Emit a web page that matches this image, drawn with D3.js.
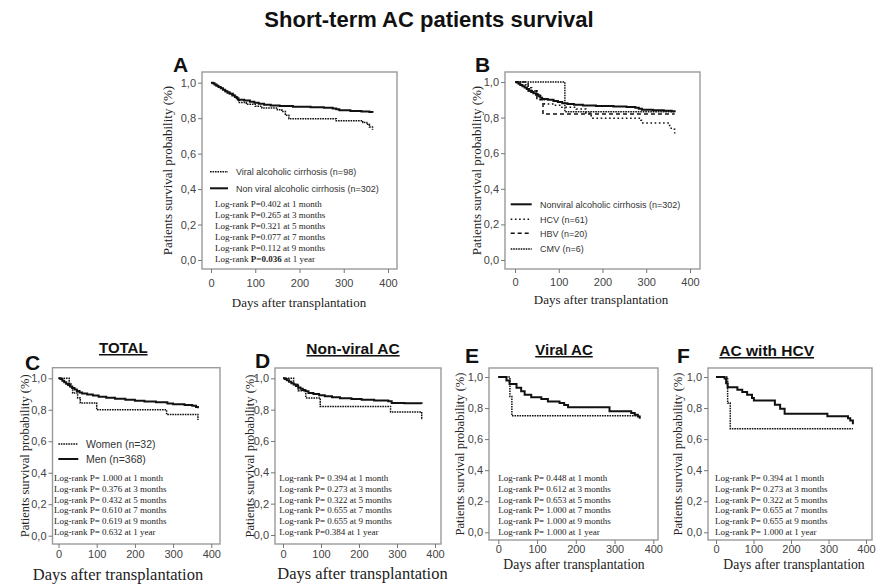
<!DOCTYPE html>
<html><head><meta charset="utf-8">
<script src="https://cdn.jsdelivr.net/npm/d3@7"></script>
<style>body{margin:0;background:#fff}</style>
</head><body><svg id="c" width="877" height="585"></svg>
<script>
// ---------- DATA ----------
const chartTitle = "Short-term AC patients survival";
const xTicks = [0, 100, 200, 300, 400];
const yTicks = [0, 0.2, 0.4, 0.6, 0.8, 1.0];
const yTickLabels = ["0,0", "0,2", "0,4", "0,6", "0,8", "1,0"];
const yAxisTitle = "Patients survival probability (%)";
const xAxisTitle = "Days after transplantation";

// Panel A
const aNonViral = [[0,1],[4,0.997],[8,0.99],[12,0.983],[17,0.976],[22,0.969],[27,0.96],[32,0.952],[37,0.944],[42,0.937],[48,0.928],[54,0.92],[58,0.912],[62,0.904],[75,0.9],[88,0.893],[98,0.887],[108,0.881],[120,0.876],[135,0.872],[155,0.868],[185,0.865],[225,0.862],[255,0.859],[275,0.855],[283,0.85],[290,0.844],[315,0.841],[340,0.838],[358,0.835],[365,0.83]];
const aViral = [[0,1],[6,0.99],[13,0.98],[20,0.97],[27,0.959],[34,0.949],[42,0.939],[50,0.929],[56,0.918],[60,0.898],[64,0.888],[80,0.878],[100,0.867],[115,0.857],[150,0.847],[160,0.837],[168,0.816],[176,0.796],[283,0.786],[343,0.776],[352,0.765],[358,0.75],[365,0.735]];
const aLegend = ["Viral alcoholic cirrhosis (n=98)", "Non viral alcoholic cirrhosis (n=302)"];
const aLogrank = ["Log-rank P=0.402 at 1 month","Log-rank P=0.265 at 3 months","Log-rank P=0.321 at 5 months","Log-rank P=0.077 at 7 months","Log-rank P=0.112 at 9 months","Log-rank P=0.036 at 1 year"];
const aBoldText = "P=0.036";

// Panel B
const bNonViral = [[0,1],[4,0.997],[8,0.99],[12,0.983],[17,0.976],[22,0.969],[27,0.96],[32,0.952],[37,0.944],[42,0.937],[48,0.928],[54,0.92],[58,0.912],[62,0.904],[75,0.9],[88,0.893],[98,0.887],[108,0.881],[120,0.876],[135,0.872],[155,0.868],[185,0.865],[225,0.862],[255,0.859],[275,0.855],[283,0.85],[290,0.844],[315,0.841],[340,0.838],[358,0.835],[365,0.83]];
const bHCV = [[0,1],[12,0.984],[25,0.967],[38,0.951],[50,0.934],[58,0.918],[62,0.902],[67,0.877],[90,0.869],[105,0.858],[140,0.848],[162,0.825],[172,0.81],[178,0.797],[288,0.785],[292,0.77],[350,0.755],[357,0.735],[365,0.71]];
const bHBV = [[0,1],[30,0.95],[50,0.9],[64,0.82],[365,0.82]];
const bCMV = [[0,1],[114,0.833],[365,0.833]];
const bLegend = ["Nonviral alcoholic cirrhosis (n=302)", "HCV (n=61)", "HBV (n=20)", "CMV (n=6)"];

// Panel C (TOTAL)
const cMen = [[0,1],[5,0.995],[10,0.985],[15,0.975],[20,0.965],[25,0.957],[30,0.948],[36,0.938],[42,0.929],[48,0.92],[55,0.91],[62,0.903],[75,0.897],[90,0.89],[105,0.883],[125,0.877],[148,0.87],[175,0.864],[200,0.858],[225,0.853],[255,0.848],[285,0.84],[300,0.835],[330,0.83],[350,0.825],[360,0.818],[365,0.81]];
const cWomen = [[0,1],[28,0.969],[33,0.938],[37,0.906],[50,0.875],[57,0.843],[100,0.8],[283,0.77],[365,0.735]];
const cLegend = ["Women (n=32)", "Men (n=368)"];
const cLogrank = ["Log-rank P= 1.000 at 1 month","Log-rank P= 0.376 at 3 months","Log-rank P= 0.432 at 5 months","Log-rank P= 0.610 at 7 months","Log-rank P= 0.619 at 9 months","Log-rank P= 0.632 at 1 year"];

// Panel D (Non-viral AC)
const dMen = [[0,1],[5,0.995],[10,0.987],[16,0.978],[22,0.969],[28,0.96],[34,0.951],[40,0.942],[46,0.934],[52,0.926],[59,0.917],[67,0.906],[80,0.9],[95,0.892],[110,0.885],[129,0.879],[150,0.873],[180,0.868],[207,0.863],[240,0.858],[277,0.853],[286,0.842],[320,0.84],[365,0.838]];
const dWomen = [[0,1],[28,0.96],[40,0.92],[60,0.875],[98,0.82],[283,0.785],[365,0.735]];
const dLogrank = ["Log-rank P= 0.394 at 1 month","Log-rank P= 0.273 at 3 months","Log-rank P= 0.322 at 5 months","Log-rank P= 0.655 at 7 months","Log-rank P= 0.655 at 9 months","Log-rank P=0.384 at 1 year"];

// Panel E (Viral AC)
const eMen = [[0,1],[21,0.978],[29,0.955],[47,0.93],[59,0.908],[68,0.886],[85,0.869],[111,0.858],[128,0.843],[158,0.833],[170,0.82],[180,0.805],[287,0.779],[343,0.768],[352,0.757],[360,0.745],[365,0.731]];
const eWomen = [[0,1],[30,0.875],[35,0.75],[365,0.75]];
const eLogrank = ["Log-rank P= 0.448 at 1 month","Log-rank P= 0.612 at 3 months","Log-rank P= 0.653 at 5 months","Log-rank P= 1.000 at 7 months","Log-rank P= 1.000 at 9 months","Log-rank P= 1.000 at 1 year"];

// Panel F (AC with HCV)
const fMen = [[0,1],[23,0.99],[27,0.96],[31,0.934],[57,0.918],[70,0.903],[83,0.886],[96,0.865],[101,0.848],[157,0.822],[171,0.796],[183,0.764],[297,0.747],[352,0.735],[358,0.72],[365,0.695]];
const fWomen = [[0,1],[31,0.833],[38,0.667],[365,0.667]];
const fLogrank = ["Log-rank P= 0.394 at 1 month","Log-rank P= 0.273 at 3 months","Log-rank P= 0.322 at 5 months","Log-rank P= 0.655 at 7 months","Log-rank P= 0.655 at 9 months","Log-rank P= 1.000 at 1 year"];

const panelLetters = ["A", "B", "C", "D", "E", "F"];
const panelSubtitles = ["", "", "TOTAL", "Non-viral AC", "Viral AC", "AC with HCV"];

// ---------- STYLES ----------
const SOLID = {dash: null, w: 2};
const DENSE = {dash: "1.6,0.9", w: 1.5};
const SPARSE = {dash: "1.6,2.6", w: 1.5};
const DASHED = {dash: "4,3", w: 1.5};
const SERIF = "'Liberation Serif','Times New Roman',serif";
const SANS = "'Liberation Sans',Arial,sans-serif";

const svg = d3.select("#c");

svg.append("text").attr("x", 429).attr("y", 27).attr("text-anchor", "middle")
  .attr("font-family", SANS).attr("font-weight", "bold").attr("font-size", 22)
  .attr("fill", "#111").text(chartTitle);

const panels = [
  {frame:[202,72,397,269], xr:[211,388], yr:[260,82.7], xpad:6, xt:[299,307,13], yt:[172,13], letter:[173,72], sub:null,
   series:[[aViral,DENSE],[aNonViral,SOLID]],
   legend:{items:[[aLegend[0],DENSE],[aLegend[1],SOLID]], x0:210, x1:228, tx:236, ys:[171.7,188.3], fs:9},
   logrank:{lines:aLogrank, x:215, y0:207.3, step:10.85, bold:aBoldText}},
  {frame:[505,72,700,269], xr:[515,690], yr:[260,82], xpad:5, xt:[601,304,13], yt:[481,13], letter:[475,72], sub:null,
   series:[[bCMV,DENSE],[bHBV,DASHED],[bHCV,SPARSE],[bNonViral,SOLID]],
   legend:{items:[[bLegend[0],SOLID],[bLegend[1],SPARSE],[bLegend[2],DASHED],[bLegend[3],DENSE]], x0:510.7, x1:531.7, tx:540, ys:[204.3,219.3,233.3,249], fs:9},
   logrank:null},
  {frame:[52.5,367.7,220,544], xr:[58.5,211.3], yr:[535.7,378.3], xpad:2, xt:[118,580,16.5], yt:[29,12.5], letter:[25,370], sub:[123.3,353,15],
   series:[[cWomen,DENSE],[cMen,SOLID]],
   legend:{items:[[cLegend[0],DENSE],[cLegend[1],SOLID]], x0:58.3, x1:78.3, tx:86, ys:[444,459], fs:10.5},
   logrank:{lines:cLogrank, x:54, y0:481.3, step:10.7}},
  {frame:[275,368,441,544], xr:[283,435], yr:[535,378.3], xpad:2, xt:[362.5,579,16.5], yt:[254,12.5], letter:[255,368], sub:[353,354,15.5],
   series:[[dWomen,DENSE],[dMen,SOLID]], legend:null,
   logrank:{lines:dLogrank, x:279.3, y0:480.7, step:10.9}},
  {frame:[489,368,658,540], xr:[498.3,653.3], yr:[532.3,377], xpad:1, xt:[574,569,13.7], yt:[464,12.5], letter:[465,363], sub:[564,355,15],
   series:[[eWomen,DENSE],[eMen,SOLID]], legend:null,
   logrank:{lines:eLogrank, x:498.3, y0:480.7, step:10.9}},
  {frame:[708,368,872,540], xr:[716,866], yr:[532.3,377], xpad:1, xt:[794,569,13.7], yt:[682,12.5], letter:[677,363], sub:[766.7,356,15.5],
   series:[[fWomen,DENSE],[fMen,SOLID]], legend:null,
   logrank:{lines:fLogrank, x:715, y0:480.7, step:10.9}}
];

panels.forEach((p, i) => {
  const g = svg.append("g");
  const [fx0, fy0, fx1, fy1] = p.frame;
  const x = d3.scaleLinear().domain([0, 400]).range(p.xr);
  const y = d3.scaleLinear().domain([0, 1]).range(p.yr);

  // frame
  g.append("rect").attr("x", fx0).attr("y", fy0).attr("width", fx1 - fx0).attr("height", fy1 - fy0)
    .attr("fill", "none").attr("stroke", "#9a9a9a").attr("stroke-width", 1.4);

  // axes
  const ya = g.append("g").attr("transform", `translate(${fx0},0)`)
    .call(d3.axisLeft(y).tickValues(yTicks).tickFormat((d, k) => yTickLabels[k]).tickSize(4).tickPadding(2));
  const xa = g.append("g").attr("transform", `translate(0,${fy1})`)
    .call(d3.axisBottom(x).tickValues(xTicks).tickFormat(d3.format("d")).tickSize(4).tickPadding(p.xpad));
  [ya, xa].forEach(a => {
    a.select(".domain").remove();
    a.selectAll("line").attr("stroke", "#777");
    a.selectAll("text").attr("font-family", SANS).attr("font-size", 11).attr("fill", "#444");
  });

  // axis titles
  g.append("text").attr("x", p.xt[0]).attr("y", p.xt[1]).attr("text-anchor", "middle")
    .attr("font-family", SERIF).attr("font-size", p.xt[2]).attr("fill", "#222").text(xAxisTitle);
  const ym = (fy0 + fy1) / 2;
  g.append("text").attr("transform", `translate(${p.yt[0]},${ym}) rotate(-90)`).attr("text-anchor", "middle")
    .attr("font-family", SERIF).attr("font-size", p.yt[1]).attr("fill", "#222").text(yAxisTitle);

  // letter and subtitle
  g.append("text").attr("x", p.letter[0]).attr("y", p.letter[1]).attr("font-family", SANS)
    .attr("font-weight", "bold").attr("font-size", 21).attr("fill", "#111").text(panelLetters[i]);
  if (p.sub) {
    g.append("text").attr("x", p.sub[0]).attr("y", p.sub[1]).attr("text-anchor", "middle")
      .attr("font-family", SANS).attr("font-weight", "bold").attr("font-size", p.sub[2])
      .attr("fill", "#111").attr("text-decoration", "underline").text(panelSubtitles[i]);
  }

  // curves
  const line = d3.line().x(d => x(d[0])).y(d => y(d[1])).curve(d3.curveStepAfter);
  p.series.forEach(([data, st]) => {
    g.append("path").datum(data).attr("d", line).attr("fill", "none").attr("stroke", "#111")
      .attr("stroke-width", st.w).attr("stroke-dasharray", st.dash);
  });

  // legend
  if (p.legend) {
    p.legend.items.forEach(([label, st], k) => {
      const yy = p.legend.ys[k];
      g.append("line").attr("x1", p.legend.x0).attr("x2", p.legend.x1).attr("y1", yy).attr("y2", yy)
        .attr("stroke", "#111").attr("stroke-width", st.w).attr("stroke-dasharray", st.dash);
      g.append("text").attr("x", p.legend.tx).attr("y", yy + p.legend.fs * 0.36)
        .attr("font-family", SANS).attr("font-size", p.legend.fs).attr("fill", "#333").text(label);
    });
  }

  // log-rank text
  if (p.logrank) {
    p.logrank.lines.forEach((s, k) => {
      const t = g.append("text").attr("x", p.logrank.x).attr("y", p.logrank.y0 + k * p.logrank.step)
        .attr("font-family", SERIF).attr("font-size", 9).attr("fill", "#222");
      const b = p.logrank.bold;
      if (b && s.includes(b)) {
        const [pre, post] = s.split(b);
        t.append("tspan").text(pre);
        t.append("tspan").attr("font-weight", "bold").text(b);
        t.append("tspan").text(post);
      } else {
        t.text(s);
      }
    });
  }
});
</script>
</body></html>
